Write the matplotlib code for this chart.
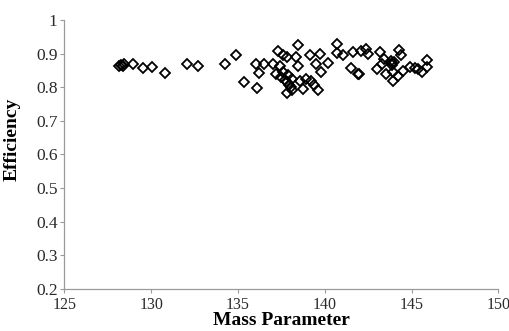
import matplotlib
matplotlib.use("Agg")
import matplotlib.pyplot as plt

# Mass parameter vs. efficiency samples
mass = [
    128.15, 128.25, 128.35, 128.45, 128.96, 129.54, 130.06, 130.81, 132.08, 132.72,
    134.26, 134.90, 135.33, 136.10, 136.05, 136.50, 136.20, 137.00, 137.30, 137.40,
    137.20, 137.60, 137.80,
    137.50, 137.70, 137.85, 137.95, 138.05, 137.60, 138.10, 137.90,
    138.46, 138.37, 137.80, 139.13, 139.70, 139.50, 138.46, 139.80, 140.20, 140.70,
    140.70, 141.06, 141.60, 141.50, 141.90, 142.10,
    138.55, 139.20, 138.75, 138.10, 139.60, 138.90, 139.35,
    142.40, 142.50, 143.20, 143.40, 143.80, 143.90, 144.00, 143.85, 144.40, 144.30,
    143.30, 143.50, 143.95, 143.95, 144.50, 144.90, 145.20, 145.60, 145.90, 145.90,
    142.00, 143.00, 144.20, 145.40,
]
efficiency = [
    0.862, 0.866, 0.864, 0.868, 0.870, 0.858, 0.861, 0.843, 0.870, 0.864,
    0.870, 0.897, 0.817, 0.797, 0.870, 0.870, 0.842, 0.870, 0.908, 0.864,
    0.839, 0.895, 0.784,
    0.830, 0.822, 0.815, 0.808, 0.800, 0.845, 0.825, 0.835,
    0.925, 0.889, 0.889, 0.895, 0.900, 0.870, 0.864, 0.844, 0.873, 0.928,
    0.903, 0.895, 0.905, 0.857, 0.839, 0.908,
    0.819, 0.819, 0.794, 0.791, 0.791, 0.825, 0.808,
    0.915, 0.900, 0.905, 0.885, 0.878, 0.872, 0.876, 0.866, 0.895, 0.910,
    0.870, 0.839, 0.819, 0.844, 0.849, 0.859, 0.856, 0.844, 0.880, 0.859,
    0.839, 0.855, 0.833, 0.855,
]

x_ticks = [125, 130, 135, 140, 145, 150]
y_ticks = [0.2, 0.3, 0.4, 0.5, 0.6, 0.7, 0.8, 0.9, 1.0]
y_tick_labels = ["0.2", "0.3", "0.4", "0.5", "0.6", "0.7", "0.8", "0.9", "1"]

plt.rcParams["font.family"] = ["Liberation Serif", "DejaVu Serif"]

fig = plt.figure(figsize=(5.09, 3.31), dpi=100)
ax = fig.add_axes([0.1267, 0.1269, 0.979 - 0.1267, 0.9396 - 0.1269])

ax.plot(mass, efficiency, linestyle="none", marker="D", markersize=5.0,
        markerfacecolor="none", markeredgecolor="black", markeredgewidth=1.3)

ax.set_xlim(125, 150)
ax.set_ylim(0.2, 1.0)
ax.set_xticks(x_ticks)
ax.set_yticks(y_ticks)
ax.set_yticklabels(y_tick_labels)

for side in ("top", "right"):
    ax.spines[side].set_visible(False)
for side in ("left", "bottom"):
    ax.spines[side].set_color("#9a9a9a")
    ax.spines[side].set_linewidth(0.9)

ax.tick_params(axis="y", direction="out", length=3, width=0.8, color="#9a9a9a",
               labelsize=12.5, labelcolor="#2a2a2a", pad=2)
ax.tick_params(axis="x", direction="out", length=3, width=0.8, color="#9a9a9a",
               labelsize=11.5, labelcolor="#2a2a2a", pad=3)

ax.set_xlabel("Mass Parameter", fontsize=14, fontweight="bold")
ax.set_ylabel("Efficiency", fontsize=14, fontweight="bold")
ax.xaxis.set_label_coords(0.50, -0.086)
ax.yaxis.set_label_coords(-0.1, 0.556)

fig.savefig("out.png", dpi=100)
